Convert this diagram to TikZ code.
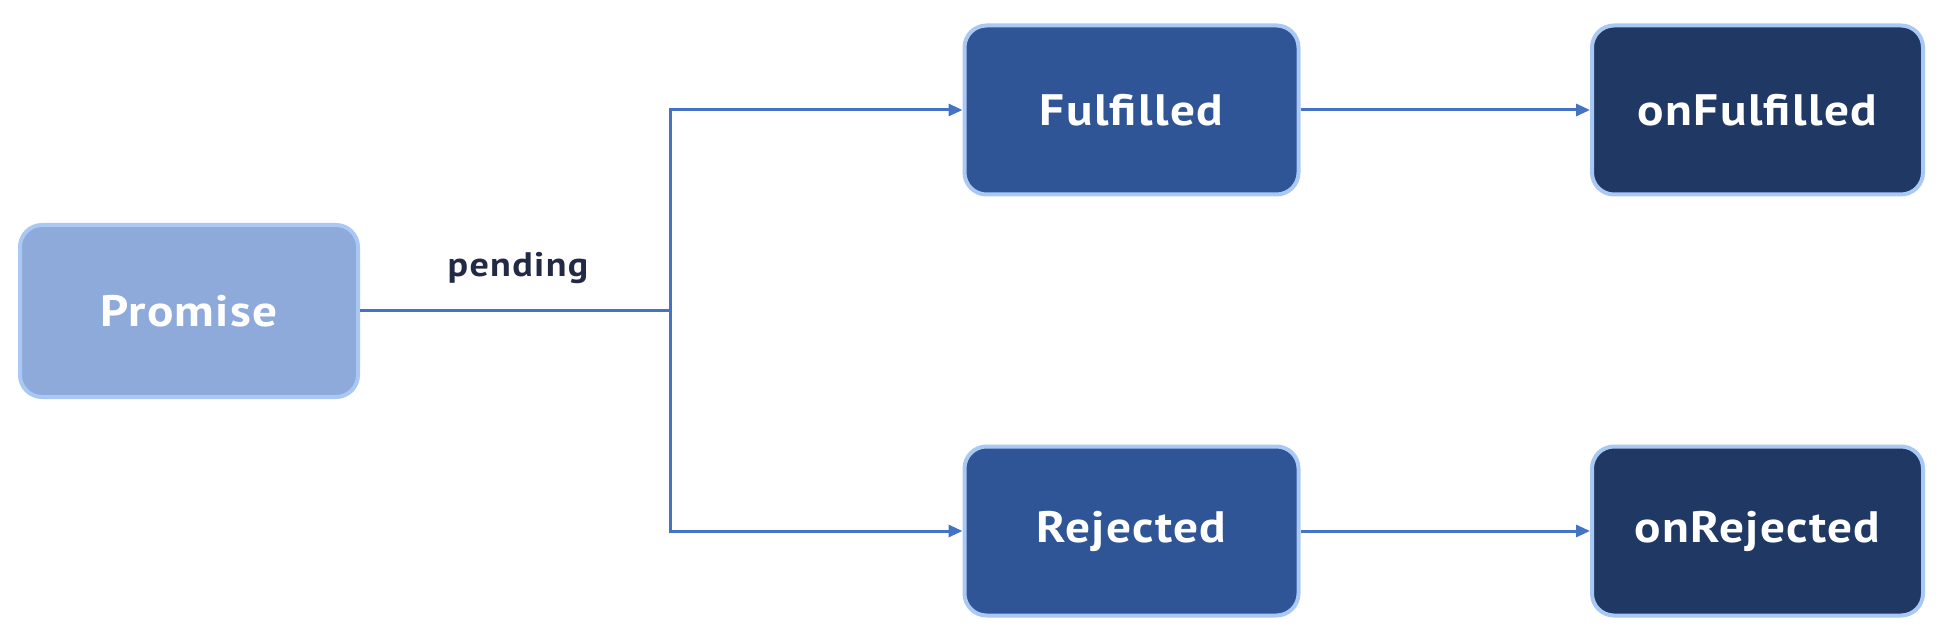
\documentclass[tikz,border=0pt]{standalone}
\usepackage{fontspec}
\setmainfont{PT Sans}
\newfontfamily\boxfont{PT Sans}[FakeStretch=1.12,LetterSpace=3]
\newfontfamily\pendfont{PT Sans}[FakeStretch=1.12,LetterSpace=4]
\usetikzlibrary{arrows.meta}
\definecolor{lineblue}{HTML}{4472C4}
\definecolor{glow}{HTML}{A9C8F4}
\definecolor{promfill}{HTML}{8EAADB}
\definecolor{midfill}{HTML}{2F5597}
\definecolor{darkfill}{HTML}{1F3864}
\definecolor{labelcol}{HTML}{222A45}
\tikzset{
  box/.style={draw=glow, line width=4pt, rounded corners=22pt, minimum width=334pt, minimum height=169pt, inner sep=0pt, text=white, font=\boxfont\fontsize{44}{48}\selectfont\bfseries},
  lightbox/.style={box, fill=promfill},
  midbox/.style={box, fill=midfill},
  darkbox/.style={box, fill=darkfill},
  conn/.style={draw=lineblue, line width=3pt},
  arr/.style={conn, -{Triangle[length=14pt,width=12pt]}},
}
\begin{document}
\begin{tikzpicture}[x=1pt,y=-1pt]
\useasboundingbox (0,0) rectangle (1952,644);
\node[lightbox, minimum width=338pt, minimum height=172pt] (prom) at (189,311) {Promise};
\node[midbox] (ful) at (1131.5,110) {Fulfilled};
\node[midbox] (rej) at (1131.5,531) {Rejected};
\node[darkbox, minimum width=331pt] (onful) at (1757.5,110) {onFulfilled};
\node[darkbox, minimum width=331pt] (onrej) at (1757.5,531) {onRejected};
\coordinate (split) at (670,311);
\coordinate (top) at (670,110);
\coordinate (bot) at (670,531);
\node[text=labelcol, font=\pendfont\fontsize{34}{36}\selectfont\bfseries] (pend) at (518,268) {pending};
\draw[conn] (prom.east) -- (split);
\draw[conn, line cap=rect] (top) -- (bot);
\draw[arr] (top) -- (ful.west);
\draw[arr] (bot) -- (rej.west);
\draw[arr] (ful.east) -- (onful.west);
\draw[arr] (rej.east) -- (onrej.west);
\end{tikzpicture}
\end{document}
